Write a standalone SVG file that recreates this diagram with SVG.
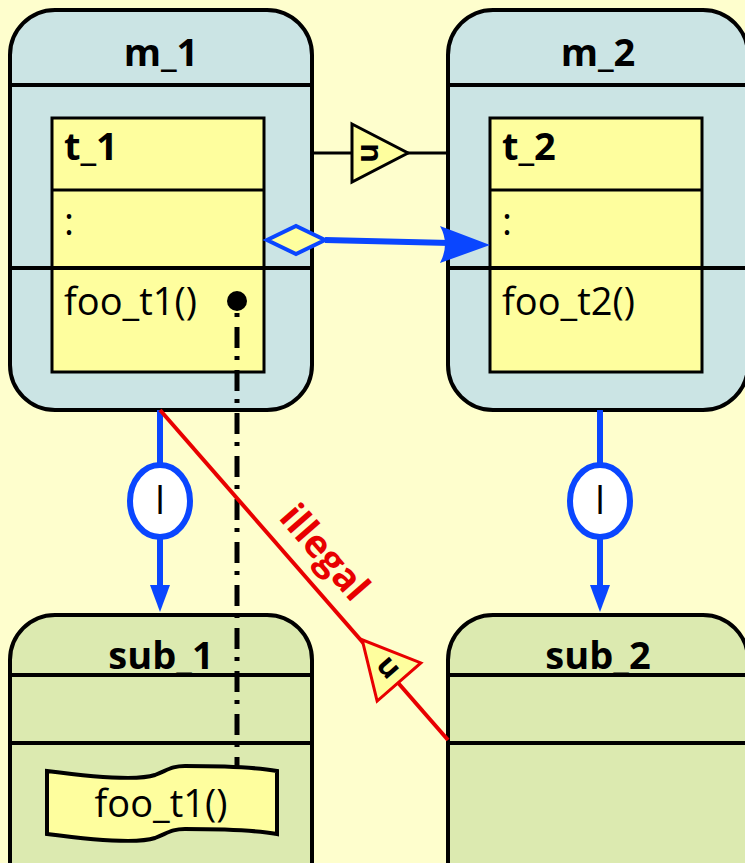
<svg xmlns="http://www.w3.org/2000/svg" width="745" height="863" viewBox="0 0 745 863">
<defs>
<style>
.mod{fill:#CBE4E4;stroke:#000;stroke-width:4}
.sub{fill:#DCEAB0;stroke:#000;stroke-width:4}
.cls{fill:#FEFE9E;stroke:#000;stroke-width:3}
.ln{stroke:#000;stroke-width:4}
.t{font-family:"Open Sans","Noto Sans",sans-serif;font-size:38px;fill:#000}
.b{font-weight:bold}
.blue{stroke:#0A46FF;stroke-width:6;fill:none}
.red{stroke:#E80000;stroke-width:4;fill:none}
</style>
<polygon id="tri" points="0,-29 56,0 0,29" fill="#FEFE9E" stroke-width="3"/>
</defs>
<rect x="0" y="0" width="745" height="863" fill="#FEFECD"/>

<g id="m_1">
<rect class="mod" x="10" y="10" width="302" height="400" rx="45"/>
<line class="ln" x1="10" y1="85" x2="312" y2="85"/>
<line class="ln" x1="10" y1="268" x2="312" y2="268"/>
<text class="t b" x="161" y="66" text-anchor="middle">m_1</text>
</g>
<g id="t_1">
<rect class="cls" x="52" y="118" width="212" height="254"/>
<line class="ln" x1="52" y1="190" x2="264" y2="190" style="stroke-width:3"/>
<line class="ln" x1="52" y1="268" x2="264" y2="268"/>
<text class="t b" x="64" y="160">t_1</text>
<text class="t" x="64" y="235">:</text>
<text class="t" x="64" y="315">foo_t1()</text>
<circle cx="237" cy="301" r="10" fill="#000"/>
</g>

<g id="m_2">
<rect class="mod" x="448" y="10" width="300" height="400" rx="45"/>
<line class="ln" x1="448" y1="85" x2="748" y2="85"/>
<line class="ln" x1="448" y1="268" x2="748" y2="268"/>
<text class="t b" x="598" y="66" text-anchor="middle">m_2</text>
</g>
<g id="t_2">
<rect class="cls" x="490" y="118" width="212" height="254"/>
<line class="ln" x1="490" y1="190" x2="702" y2="190" style="stroke-width:3"/>
<line class="ln" x1="490" y1="268" x2="702" y2="268"/>
<text class="t b" x="502" y="160">t_2</text>
<text class="t" x="502" y="235">:</text>
<text class="t" x="502" y="315">foo_t2()</text>
</g>

<g id="sub_1">
<rect class="sub" x="10" y="615" width="302" height="300" rx="45"/>
<line class="ln" x1="10" y1="675" x2="312" y2="675"/>
<line class="ln" x1="10" y1="743" x2="312" y2="743"/>
<text class="t b" x="161" y="669" text-anchor="middle">sub_1</text>
</g>

<g id="sub_2">
<rect class="sub" x="448" y="615" width="300" height="300" rx="45"/>
<line class="ln" x1="448" y1="675" x2="748" y2="675"/>
<line class="ln" x1="448" y1="743" x2="748" y2="743"/>
<text class="t b" x="598" y="669" text-anchor="middle">sub_2</text>
</g>

<g id="connectors">
<line class="ln" x1="312" y1="153" x2="448" y2="153" style="stroke-width:3"/>
<g transform="translate(352,153)">
<use href="#tri" stroke="#000"/>
<text class="t b" transform="translate(18,0) rotate(90)" text-anchor="middle" dy="9" style="font-size:30px">n</text>
</g>

<line class="blue" x1="325" y1="240" x2="450" y2="243"/>
<polygon points="267,240 296,226 325,240 296,254" fill="#FEFE9E" stroke="#0A46FF" stroke-width="4"/>
<path d="M490,245 L440,226 Q450,244 440,263 Z" fill="#0A46FF"/>

<line class="blue" x1="160" y1="410" x2="160" y2="590"/>
<path d="M160,612 L150,585 L170,585 Z" fill="#0A46FF"/>
<ellipse cx="160" cy="501" rx="30" ry="36" fill="#fff" stroke="#0A46FF" stroke-width="6"/>
<text class="t" x="160" y="514" text-anchor="middle">l</text>

<line class="blue" x1="600" y1="410" x2="600" y2="590"/>
<path d="M600,612 L590,585 L610,585 Z" fill="#0A46FF"/>
<ellipse cx="600" cy="501" rx="30" ry="36" fill="#fff" stroke="#0A46FF" stroke-width="6"/>
<text class="t" x="600" y="514" text-anchor="middle">l</text>

<line x1="237" y1="313" x2="237" y2="766" stroke="#000" stroke-width="5" stroke-dasharray="4 10 21 8"/>

<line class="red" x1="160" y1="410" x2="448" y2="740"/>
<g transform="translate(399,682) rotate(228.9)">
<use href="#tri" stroke="#E80000"/>
<text class="t b" transform="translate(18,0)" text-anchor="middle" dy="9" style="font-size:30px">n</text>
</g>
<text class="t b" transform="translate(324,553) rotate(48.9)" text-anchor="middle" dy="12" style="fill:#E80000">illegal</text>
</g>

<g id="note">
<path d="M47,771 C100,778 140,780 155,775 C168,770 172,766 185,766 C230,766 260,768 277,771 L277,834 C260,831 230,829 185,829 C172,829 168,833 155,838 C140,843 100,841 47,834 Z" fill="#FEFE9E" stroke="#000" stroke-width="4"/>
<text class="t" x="161" y="817" text-anchor="middle">foo_t1()</text>
</g>
</svg>
